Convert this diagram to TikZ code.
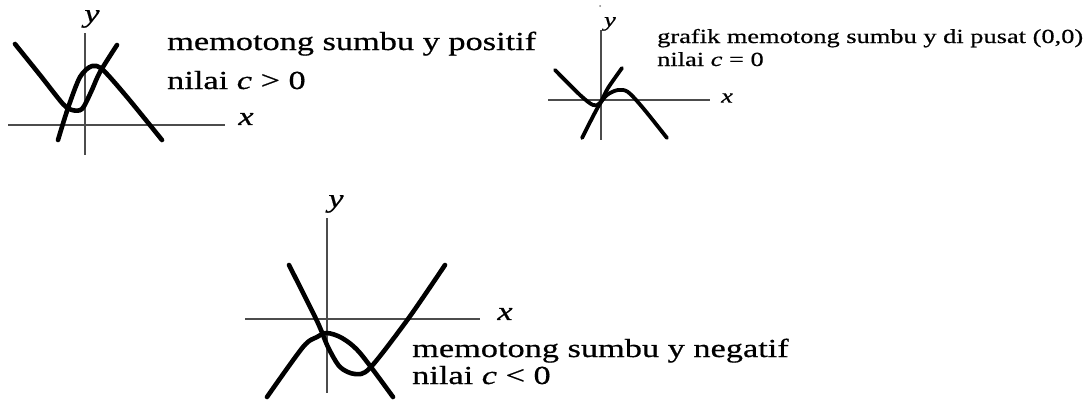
\documentclass[tikz,border=0pt]{standalone}
\usepackage{fontspec}
\setmainfont{Liberation Serif}
\newfontfamily\tnr[FakeStretch=1.32,FakeBold=0.6]{Liberation Serif}
\begin{document}
\begin{tikzpicture}[x=1pt,y=-1pt,
  axis/.style={draw=black!70,line width=1.5pt},
  curve/.style={draw=black,line width=4.6pt,line cap=round,line join=round},
  curvethin/.style={draw=black,line width=3.8pt,line cap=round,line join=round},
  big/.style={inner sep=0pt,anchor=base west,font=\tnr\fontsize{26}{26}\selectfont},
  small/.style={inner sep=0pt,anchor=base west,font=\tnr\fontsize{20}{20}\selectfont},
  lab/.style={inner sep=0pt,font=\tnr\itshape\fontsize{26}{26}\selectfont},
  labs/.style={inner sep=0pt,font=\tnr\itshape\fontsize{20}{20}\selectfont}]
\useasboundingbox (0,0) rectangle (1091,400);
% ---------- panel 1 ----------
\draw[axis] (8,125) -- (225,125);
\draw[axis] (85,33) -- (85,155);
\node[lab] (y1) at (92,19) {y};
\node[lab] (x1) at (246,119) {x};
\draw[curve] plot[smooth,tension=0.5] coordinates {(15,44) (40,75) (63,104) (72,110) (82,109) (91,92) (100,72) (117,45)};
\draw[curve] plot[smooth,tension=0.5] coordinates {(58,140) (68,108) (80,77) (92,66) (103,70) (127,97) (162,140)};
\node[big] (t1a) at (167,50) {memotong sumbu y positif};
\node[big] (t1b) at (167,89) {nilai \textit{c} {>} 0};
% ---------- panel 2 ----------
\fill[black!50] (600,6) circle (1pt);
\draw[axis] (548,100) -- (710,100);
\draw[axis] (601,30) -- (601,140);
\node[labs] (y2) at (610,24) {y};
\node[labs] (x2) at (727,98) {x};
\draw[curvethin] plot[smooth,tension=0.5] coordinates {(555,70) (580,95) (593,105) (600,103) (608,88) (622,68)};
\draw[curvethin] plot[smooth,tension=0.5] coordinates {(582,138) (598,107) (607,95) (618,90) (628,92) (643,108) (667,138)};
\node[small] (t2a) at (657,43) {grafik memotong sumbu y di pusat (0,0)};
\node[small] (t2b) at (657,66) {nilai \textit{c} = 0};
% ---------- panel 3 ----------
\draw[axis] (245,319) -- (480,319);
\draw[axis] (327,218) -- (327,393);
\node[lab] (y3) at (336,204) {y};
\node[lab] (x3) at (505,314) {x};
\draw[curve] plot[smooth,tension=0.5] coordinates {(289,265) (317,321) (328,347) (340,367) (355,374) (370,368) (408,319) (445,265)};
\draw[curve] plot[smooth,tension=0.5] coordinates {(267,397) (303,347) (317,337) (327,333) (342,338) (360,353) (393,397)};
\node[big] (t3a) at (412,357) {memotong sumbu y negatif};
\node[big] (t3b) at (412,384) {nilai \textit{c} {<} 0};
\end{tikzpicture}
\end{document}
